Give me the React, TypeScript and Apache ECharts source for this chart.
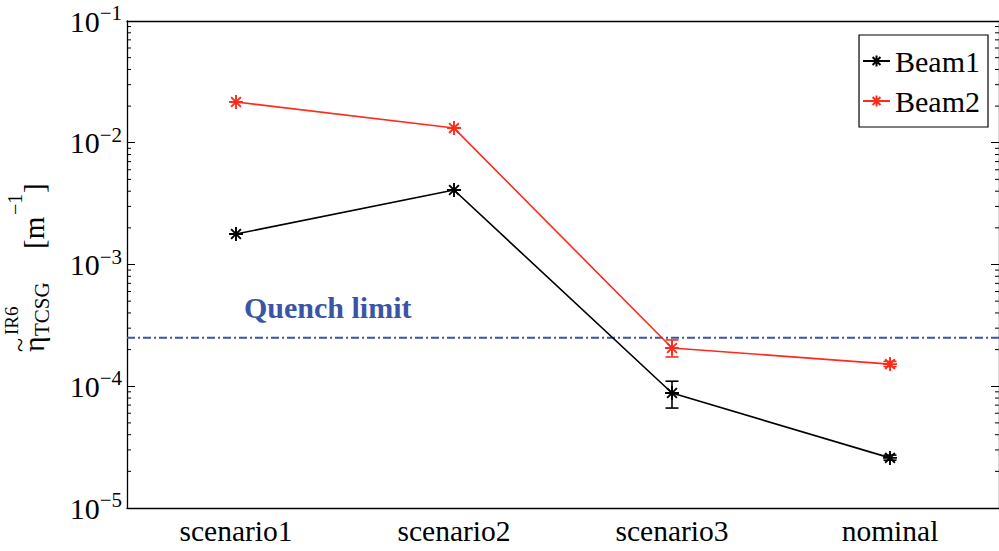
import React, { useEffect, useRef } from 'react';
import * as echarts from 'echarts';

const categories = ['scenario1', 'scenario2', 'scenario3', 'nominal'];
const beam1 = [1.78e-3, 4.09e-3, 8.8e-5, 2.58e-5];
const beam2 = [2.16e-2, 1.32e-2, 2.06e-4, 1.52e-4];
const beam1ErrLow = [null, null, 6.62e-5, 2.47e-5];
const beam1ErrHigh = [null, null, 1.1e-4, 2.72e-5];
const beam2ErrLow = [null, null, 1.74e-4, 1.45e-4];
const beam2ErrHigh = [null, null, 2.4e-4, 1.6e-4];
const quenchLimit = 2.5e-4;
const yMin = 1e-5;
const yMax = 1e-1;
const minorMultipliers = [2, 3, 4, 5, 6, 7, 8, 9];
const decades = [1e-5, 1e-4, 1e-3, 1e-2];

const RED = '#ff2a1a';
const BLACK = '#000000';
const BLUE = '#3a55a6';
const FONT = 'Liberation Serif';
const STAR = 'path://M5,0L5,10M0,5L10,5M1.5,1.5L8.5,8.5M1.5,8.5L8.5,1.5';

function errData(lo: (number | null)[], hi: (number | null)[]) {
  const out: number[][] = [];
  lo.forEach((l, i) => {
    const h = hi[i];
    if (l != null && h != null) out.push([i, l, h]);
  });
  return out;
}

function errRender(color: string) {
  return (params: any, api: any) => {
    const x = api.value(0);
    const pLo = api.coord([x, api.value(1)]);
    const pHi = api.coord([x, api.value(2)]);
    const hw = 6.5;
    const style = { stroke: color, lineWidth: 1.6 };
    return {
      type: 'group',
      children: [
        { type: 'line', shape: { x1: pLo[0], y1: pLo[1], x2: pHi[0], y2: pHi[1] }, style },
        { type: 'line', shape: { x1: pLo[0] - hw, y1: pLo[1], x2: pLo[0] + hw, y2: pLo[1] }, style },
        { type: 'line', shape: { x1: pHi[0] - hw, y1: pHi[1], x2: pHi[0] + hw, y2: pHi[1] }, style },
      ],
    };
  };
}

export default function App() {
  const ref = useRef<HTMLDivElement>(null);
  useEffect(() => {
    if (!ref.current) return;
    const chart = echarts.init(ref.current, undefined, { renderer: 'svg' });
    const minorVals: number[][] = [];
    decades.forEach((d) => minorMultipliers.forEach((m) => minorVals.push([0, m * d])));

    const t = (text: string, lx: number, ly: number, size: number) => ({
      type: 'text',
      x: lx,
      y: ly,
      style: { text, fontSize: size, fontFamily: FONT, fill: '#000', align: 'left', verticalAlign: 'middle' },
    });

    const yLabelFmt = (v: number) => {
      const e = Math.round(Math.log10(v));
      return `{b|10}{s|\u2212${-e}}`;
    };

    chart.setOption({
      animation: false,
      backgroundColor: '#ffffff',
      grid: { left: 127, right: -6, top: 21, bottom: 43 },
      legend: {
        data: ['Beam1', 'Beam2'],
        orient: 'vertical',
        right: 11,
        top: 35,
        backgroundColor: '#ffffff',
        borderColor: '#000',
        borderWidth: 1.2,
        borderRadius: 0,
        padding: [8, 8, 8, 3],
        itemGap: 4,
        itemWidth: 27,
        itemHeight: 14,
        textStyle: { fontSize: 30, fontFamily: FONT, color: '#000', lineHeight: 36 },
      },
      xAxis: [
        {
          type: 'category',
          data: categories,
          position: 'bottom',
          axisLine: { lineStyle: { color: '#000', width: 1.3 } },
          axisTick: { inside: true, length: 8, alignWithLabel: true, lineStyle: { color: '#000' } },
          axisLabel: { fontSize: 29.5, fontFamily: FONT, color: '#000', margin: 8 },
          splitLine: { show: false },
        },
        {
          type: 'category',
          data: categories,
          position: 'top',
          axisLine: { lineStyle: { color: '#000', width: 1.3 } },
          axisTick: { inside: true, length: 8, alignWithLabel: true, lineStyle: { color: '#000' } },
          axisLabel: { show: false },
          splitLine: { show: false },
        },
      ],
      yAxis: [
        {
          type: 'log',
          logBase: 10,
          min: yMin,
          max: yMax,
          position: 'left',
          axisLine: { show: true, lineStyle: { color: '#000', width: 1.3 } },
          axisTick: { show: true, inside: true, length: 8, lineStyle: { color: '#000' } },
          axisLabel: {
            formatter: yLabelFmt,
            margin: 5,
            rich: {
              b: { fontSize: 30, fontFamily: FONT, color: '#000' },
              s: { fontSize: 21, fontFamily: FONT, color: '#000', padding: [0, 0, 16, 0] },
            },
          },
          splitLine: { show: false },
        },
        {
          type: 'log',
          logBase: 10,
          min: yMin,
          max: yMax,
          position: 'right',
          axisLine: { show: true, lineStyle: { color: '#000', width: 1.3 } },
          axisTick: { show: true, inside: true, length: 8, lineStyle: { color: '#000' } },
          axisLabel: { show: false },
          splitLine: { show: false },
        },
      ],
      series: [
        {
          name: 'minorTicks',
          type: 'custom',
          silent: true,
          xAxisIndex: 0,
          yAxisIndex: 0,
          data: minorVals,
          encode: { x: 0, y: 1 },
          renderItem: (params: any, api: any) => {
            const cs = params.coordSys;
            const y = api.coord([0, api.value(1)])[1];
            const style = { stroke: '#000', lineWidth: 1 };
            return {
              type: 'group',
              children: [
                { type: 'line', shape: { x1: cs.x, y1: y, x2: cs.x + 4, y2: y }, style },
                { type: 'line', shape: { x1: cs.x + cs.width, y1: y, x2: cs.x + cs.width - 4, y2: y }, style },
              ],
            };
          },
        },
        {
          name: 'quench',
          type: 'custom',
          silent: true,
          data: [[0, quenchLimit]],
          encode: { x: 0, y: 1 },
          z: 1,
          renderItem: (params: any, api: any) => {
            const cs = params.coordSys;
            const y = api.coord([0, api.value(1)])[1];
            return {
              type: 'line',
              shape: { x1: cs.x, y1: y, x2: cs.x + cs.width, y2: y },
              style: { stroke: BLUE, lineWidth: 2, lineDash: [8, 3, 2, 3] },
            };
          },
        },
        {
          name: 'Beam1',
          type: 'line',
          data: beam1,
          symbol: STAR,
          symbolSize: 14,
          lineStyle: { color: BLACK, width: 1.6 },
          itemStyle: { color: 'none', borderColor: BLACK, borderWidth: 1.9 },
          z: 3,
        },
        {
          name: 'Beam2',
          type: 'line',
          data: beam2,
          symbol: STAR,
          symbolSize: 14,
          lineStyle: { color: RED, width: 1.6 },
          itemStyle: { color: 'none', borderColor: RED, borderWidth: 1.9 },
          z: 3,
        },
        {
          name: 'err1',
          type: 'custom',
          data: errData(beam1ErrLow, beam1ErrHigh),
          encode: { x: 0, y: [1, 2] },
          renderItem: errRender(BLACK),
          z: 4,
        },
        {
          name: 'err2',
          type: 'custom',
          data: errData(beam2ErrLow, beam2ErrHigh),
          encode: { x: 0, y: [1, 2] },
          renderItem: errRender(RED),
          z: 4,
        },
      ],
      graphic: [
        {
          type: 'text',
          x: 244,
          y: 307,
          style: {
            text: 'Quench limit',
            fontSize: 30,
            fontWeight: 'bold',
            fontFamily: FONT,
            fill: BLUE,
            align: 'left',
            verticalAlign: 'middle',
          },
        },
        {
          type: 'group',
          x: 0,
          y: 352,
          rotation: Math.PI / 2,
          children: [
            t('\u03b7', 0, 33, 30),
            t('~', 0, 19, 26),
            t('IR6', 17, 11, 19),
            t('TCSG', 16, 42, 21),
            t('[m', 103, 33.5, 29),
            t('\u22121', 137, 15, 20),
            t(']', 159, 33.5, 29),
          ],
        },
      ],
    });
    return () => chart.dispose();
  }, []);
  return (
    <div
      ref={ref}
      style={{ position: 'fixed', left: 0, top: 0, width: 999, height: 551, background: '#fff' }}
    />
  );
}
